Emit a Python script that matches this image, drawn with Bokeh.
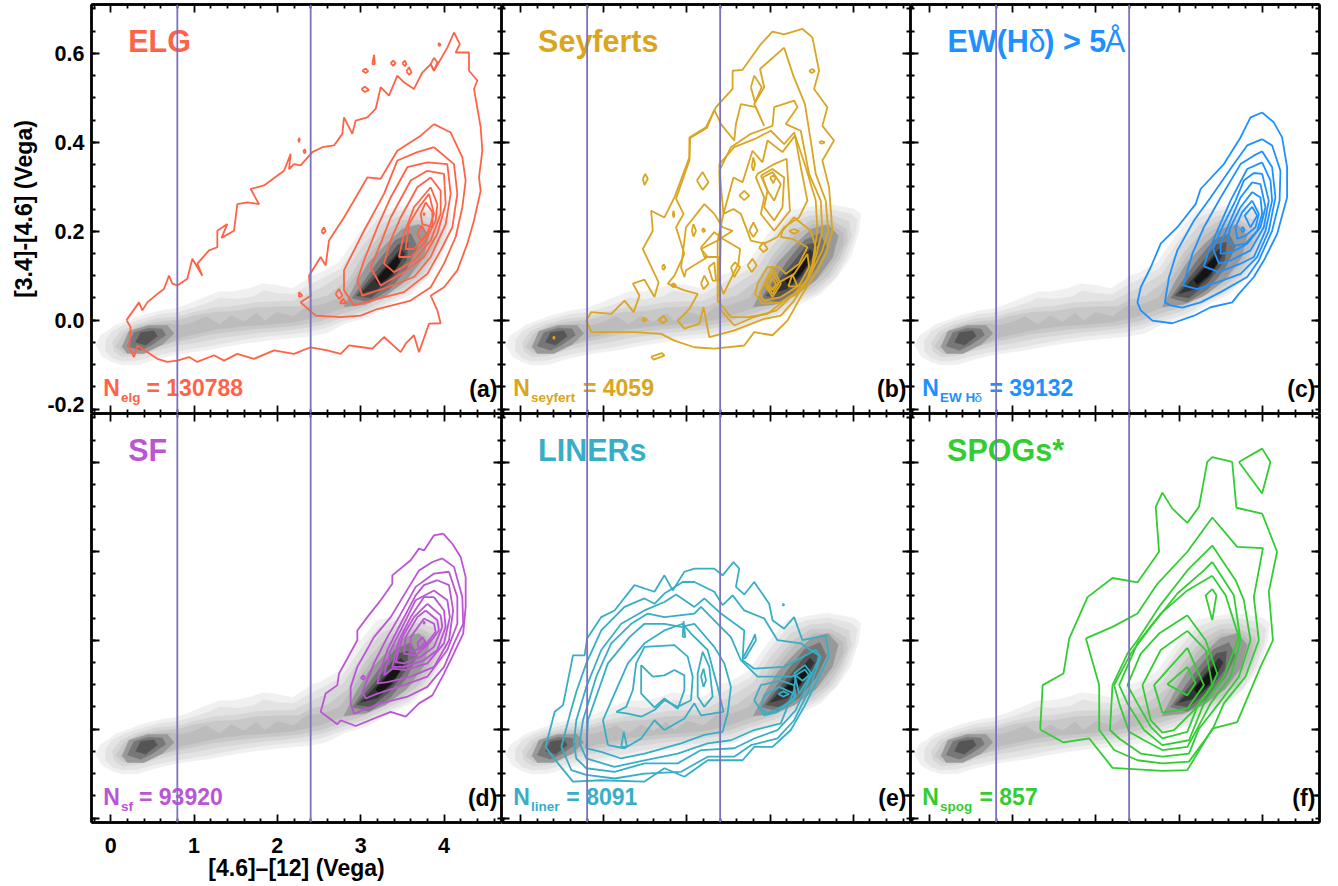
from bokeh.plotting import figure
from bokeh.layouts import gridplot
from bokeh.models import Label, Span, LinearAxis, FixedTicker
from bokeh.embed import file_html
from bokeh.resources import INLINE
import numpy as np

X_MAJOR = [0, 1, 2, 3, 4]
Y_MAJOR = [-0.2, 0, 0.2, 0.4, 0.6]
Y_MAJOR_RIGHT = [-0.15, 0, 0.2, 0.4, 0.6]
Y_LABELLED = [0, 0.2, 0.4, 0.6]
Y_LOW_LABEL = "-0.2"
V_LINES = [0.8, 2.4]
X_TITLE = "[4.6]\u2013[12] (Vega)"
Y_TITLE = "[3.4]-[4.6] (Vega)"

GRAY_COLORS = ["#f0f0f0", "#e3e3e3", "#d6d6d6", "#c8c8c8", "#bcbcbc", "#999999", "#777777", "#555555", "#333333", "#141414"]
GRAY_SHAPES = [
 [[(-.18,-.056),(-.12,-.034),(-.04,-.025),(.06,-.011),(.22,0),(.38,.011),(.62,.022),(.78,.026),(.94,.037),(1.1,.049),(1.3,.064),(1.46,.064),(1.66,.071),(1.82,.082),(1.98,.079),(2.18,.071),(2.34,.09),(2.42,.101),(2.5,.105),(2.74,.13),(2.98,.195),(3.2,.245),(3.45,.254),(3.69,.261),(4.01,.25),(4.09,.239),(4.07,.2),(3.97,.142),(3.81,.097),(3.61,.059),(3.37,.037),(3.09,.007),(2.81,-.008),(2.58,-.03),(2.38,-.037),(2.14,-.041),(1.9,-.045),(1.66,-.051),(1.42,-.058),(1.18,-.067),(.94,-.073),(.74,-.079),(.54,-.088),(.34,-.1),(.14,-.101),(.02,-.094),(-.1,-.082)]],
 [[(-.06,-.045),(.02,-.025),(.2,-.008),(.4,.003),(.6,.013),(.8,.017),(1,.028),(1.2,.04),(1.3,.05),(1.5,.047),(1.7,.052),(1.84,.066),(2,.06),(2.2,.058),(2.35,.075),(2.5,.09),(2.76,.115),(3,.18),(3.22,.23),(3.45,.245),(3.7,.25),(3.98,.238),(4.05,.225),(4.02,.19),(3.92,.14),(3.78,.095),(3.58,.063),(3.35,.043),(3.08,.014),(2.8,-.002),(2.56,-.018),(2.36,-.027),(2.12,-.032),(1.88,-.036),(1.64,-.042),(1.4,-.05),(1.16,-.059),(.92,-.066),(.72,-.072),(.52,-.08),(.32,-.09),(.14,-.092),(.02,-.085),(-.06,-.07)]],
 [[(.02,-.05),(.12,-.025),(.3,-.01),(.55,.003),(.8,.007),(1,.018),(1.25,.028),(1.5,.032),(1.75,.04),(2,.042),(2.2,.043),(2.38,.06),(2.55,.075),(2.8,.105),(3.02,.165),(3.25,.215),(3.48,.235),(3.72,.238),(3.95,.222),(3.98,.19),(3.88,.14),(3.74,.098),(3.55,.068),(3.33,.05),(3.06,.022),(2.78,.006),(2.55,-.01),(2.3,-.018),(2.05,-.024),(1.8,-.028),(1.55,-.034),(1.3,-.04),(1.05,-.05),(.8,-.057),(.55,-.068),(.32,-.08),(.14,-.083),(.04,-.07)]],
 [[(.06,-.06),(.16,-.03),(.35,-.012),(.6,-.003),(.8,0),(1,.01),(1.25,.018),(1.5,.02),(1.75,.028),(2,.03),(2.25,.03),(2.4,.045),(2.6,.055),(2.85,.09),(3.05,.15),(3.28,.2),(3.5,.225),(3.73,.225),(3.92,.205),(3.93,.18),(3.84,.14),(3.7,.1),(3.5,.072),(3.3,.055),(3.04,.03),(2.76,.014),(2.52,-.002),(2.25,-.012),(2,-.016),(1.7,-.02),(1.45,-.026),(1.2,-.032),(.95,-.042),(.75,-.05),(.55,-.06),(.34,-.072),(.16,-.075)]],
 [[(.12,-.062),(.22,-.028),(.45,-.012),(.7,-.008),(.85,-.012),(1,-.004),(1.15,.008),(1.3,-.01),(1.45,.01),(1.6,-.004),(1.75,.016),(1.85,-.002),(2,.018),(2.2,.008),(2.35,.03),(2.55,.035),(2.75,.05),(2.9,.09),(3.08,.14),(3.3,.19),(3.52,.215),(3.74,.215),(3.88,.195),(3.88,.17),(3.78,.135),(3.62,.1),(3.45,.075),(3.25,.058),(3.02,.037),(2.75,.025),(2.5,.008),(2.2,-.004),(1.9,-.01),(1.6,-.013),(1.3,-.02),(1.05,-.03),(.85,-.038),(.7,-.05),(.5,-.062),(.3,-.07)]],
 [[(2.8,.03),(2.95,.085),(3.1,.13),(3.3,.17),(3.5,.205),(3.7,.215),(3.82,.19),(3.75,.14),(3.55,.09),(3.3,.055),(3.05,.035)],[(.14,-.06),(.22,-.025),(.45,-.012),(.68,-.012),(.76,-.03),(.62,-.055),(.4,-.075),(.2,-.075)]],
 [[(2.9,.05),(3.05,.09),(3.22,.135),(3.42,.18),(3.6,.195),(3.68,.165),(3.55,.115),(3.35,.07),(3.1,.04)],[(.2,-.058),(.28,-.028),(.45,-.018),(.62,-.02),(.66,-.034),(.5,-.055),(.36,-.068)]],
 [[(2.95,.055),(3.1,.09),(3.28,.13),(3.45,.17),(3.57,.175),(3.55,.135),(3.35,.085),(3.12,.05)],[(.3,-.05),(.36,-.028),(.52,-.024),(.56,-.036),(.42,-.056)]],
 [[(3,.06),(3.15,.09),(3.32,.125),(3.48,.16),(3.53,.15),(3.38,.1),(3.2,.07)]],
 [[(3.18,.09),(3.3,.115),(3.44,.145),(3.47,.13),(3.35,.1),(3.22,.08)]],
]

ELG_CONTOURS = [
 [(.19,0),(.34,.04),(.38,.022),(.44,.04),(.56,.059),(.64,.07),(.7,.1),(.74,.082),(.8,.078),(.92,.093),(.98,.138),(1.1,.1),(1.04,.127),(1.18,.157),(1.28,.164),(1.28,.201),(1.4,.216),(1.33,.185),(1.48,.201),(1.52,.261),(1.64,.265),(1.78,.261),(1.68,.295),(1.84,.303),(2.08,.336),(2.16,.374),(2.14,.34),(2.2,.351),(2.28,.348),(2.42,.378),(2.54,.389),(2.68,.393),(2.78,.419),(2.8,.456),(2.9,.419),(2.94,.449),(3.08,.456),(3.18,.475),(3.24,.524),(3.34,.505),(3.44,.55),(3.52,.535),(3.64,.52),(3.74,.557),(3.84,.576),(3.88,.561),(4.04,.613),(4.12,.647),(4.19,.621),(4.14,.602),(4.3,.602),(4.3,.561),(4.4,.539),(4.36,.52),(4.44,.434),(4.46,.381),(4.42,.321),(4.44,.291),(4.36,.224),(4.28,.172),(4.16,.112),(4,.074),(3.84,.055),(3.92,.022),(3.96,-.007),(3.82,-.008),(3.7,-.072),(3.64,-.034),(3.54,-.053),(3.48,-.072),(3.28,-.038),(3.14,-.064),(3.02,-.061),(2.86,-.057),(2.76,-.076),(2.6,-.068),(2.4,-.061),(2.2,-.076),(1.96,-.068),(1.72,-.087),(1.52,-.076),(1.36,-.091),(1.24,-.079),(1.04,-.094),(.94,-.083),(.8,-.091),(.68,-.094),(.56,-.087),(.32,-.057),(.28,-.083),(.22,-.061),(.24,-.016)],
 [(3.88,.441),(4.08,.422),(4.22,.366),(4.26,.314),(4.22,.254),(4.14,.187),(4,.127),(3.84,.074),(3.6,.044),(3.2,.025),(3,.01),(2.76,.007),(2.46,.01),(2.28,.04),(2.4,.055),(2.38,.1),(2.52,.142),(2.58,.123),(2.62,.179),(2.8,.231),(2.92,.269),(3.08,.321),(3.24,.318),(3.44,.381),(3.72,.415)],
 [(3.88,.389),(4.12,.351),(4.16,.284),(4.1,.209),(3.96,.157),(3.8,.104),(3.52,.063),(3.2,.048),(2.92,.033),(2.8,.067),(2.8,.112),(2.92,.157),(3.04,.201),(3.28,.284),(3.44,.359),(3.68,.378)],
 [(3.8,.355),(4.04,.351),(4.08,.284),(4.02,.216),(3.84,.142),(3.64,.097),(3.32,.074),(3.02,.055),(2.96,.089),(3.04,.134),(3.2,.209),(3.36,.276),(3.56,.344)],
 [(3.8,.336),(4,.329),(4.02,.261),(3.92,.194),(3.76,.142),(3.52,.108),(3.24,.078),(3.12,.119),(3.24,.172),(3.36,.231),(3.6,.314)],
 [(3.84,.321),(3.96,.291),(3.96,.239),(3.84,.179),(3.64,.134),(3.4,.108),(3.28,.127),(3.36,.179),(3.48,.231),(3.68,.299)],
 [(3.84,.299),(3.92,.261),(3.9,.224),(3.76,.172),(3.6,.142),(3.46,.142),(3.52,.194),(3.64,.254)],
 [(3.82,.284),(3.88,.239),(3.8,.194),(3.64,.16),(3.54,.16),(3.58,.216),(3.7,.254)],
 [(3.78,.265),(3.86,.243),(3.86,.209),(3.74,.216),(3.72,.239)],
 [(3.73,.213),(3.79,.194),(3.73,.178),(3.68,.194)],
 [(3.16,.597),(3.17,.576),(3.14,.576)],
 [(3.02,.561),(3.06,.566),(3.09,.56),(3.06,.556)],
 [(3.01,.52),(3.05,.525),(3.1,.518),(3.05,.513)],
 [(3.36,.578),(3.39,.584),(3.42,.578),(3.39,.572)],
 [(3.5,.578),(3.53,.584),(3.55,.576),(3.53,.571)],
 [(3.55,.56),(3.58,.569),(3.61,.557),(3.58,.552)],
 [(3.84,.576),(3.88,.59),(3.92,.58),(3.88,.561)],
 [(3.93,.621),(3.94,.623),(3.96,.619),(3.94,.617)],
 [(2.25,.408),(2.26,.4),(2.27,.408)],
 [(2.31,.38),(2.33,.384),(2.34,.379),(2.33,.375)],
 [(2.53,.2),(2.56,.209),(2.58,.2),(2.55,.194)],
 [(2.26,.063),(2.3,.055),(2.26,.052)],
 [(2.7,.059),(2.74,.07),(2.78,.055),(2.74,.048)],
 [(2.75,.038),(2.79,.048),(2.83,.038)],
 [(3.75,.239),(3.76,.241),(3.77,.238),(3.76,.236)],
]

SEYFERT_CONTOURS = [
 [(.79,-.001),(.85,.018),(1.09,.014),(1.25,.044),(1.36,.018),(1.43,.055),(1.35,.082),(1.49,.091),(1.61,.052),(1.66,.085),(1.47,.16),(1.59,.201),(1.57,.246),(1.73,.231),(1.85,.276),(2.03,.366),(2.03,.411),(2.23,.434),(2.35,.479),(2.55,.52),(2.55,.561),(2.67,.563),(2.89,.621),(3.03,.649),(3.17,.643),(3.39,.655),(3.51,.636),(3.59,.561),(3.53,.52),(3.69,.479),(3.63,.437),(3.77,.404),(3.63,.359),(3.71,.299),(3.75,.201),(3.67,.149),(3.57,.112),(3.39,.059),(3.21,-.001),(3.03,-.034),(2.81,-.027),(2.69,-.057),(2.33,-.064),(2.09,-.061),(1.85,-.046),(1.69,-.031),(1.37,-.027),(.85,-.027)],
 [(3.17,.613),(3.28,.55),(3.42,.486),(3.49,.404),(3.55,.329),(3.67,.269),(3.7,.201),(3.63,.157),(3.47,.097),(3.29,.044),(3.13,.01),(2.93,.003),(2.57,-.023),(2.27,-.038),(2.2,.029),(2.15,-.008),(1.97,-.019),(1.89,-.001),(2.03,.025),(2.13,.059),(1.97,.067),(1.77,.082),(1.85,.1),(1.97,.149),(1.87,.209),(1.96,.239),(1.87,.273),(2.03,.359),(2.04,.41),(2.24,.432),(2.33,.473),(2.41,.441),(2.57,.404),(2.59,.441),(2.65,.486),(2.83,.479),(2.93,.437),(2.81,.486),(2.93,.524),(2.88,.565)],
 [(3.03,.437),(3.05,.479),(3.29,.494),(3.33,.479),(3.19,.441),(3.37,.426),(3.47,.329),(3.61,.269),(3.63,.201),(3.55,.142),(3.47,.097),(3.29,.059),(3.08,.022),(2.81,.007),(2.57,-.012),(2.41,.022),(2.39,.059),(2.41,.194),(2.39,.336),(2.53,.389),(2.77,.419),(2.93,.43)],
 [(2.39,.351),(2.57,.389),(2.81,.407),(3.01,.426),(3.17,.396),(3.29,.422),(3.43,.344),(3.55,.269),(3.57,.201),(3.51,.127),(3.41,.074),(3.17,.044),(2.97,.014),(2.73,.007),(2.53,.007),(2.37,.044),(2.37,.179),(2.44,.239),(2.41,.299)],
 [(2.44,.239),(2.56,.321),(2.67,.31),(2.79,.381),(2.91,.355),(2.97,.404),(3.15,.378),(3.3,.415),(3.37,.344),(3.45,.269),(3.35,.231),(3.17,.209),(3.09,.187),(2.93,.172),(2.77,.179),(2.65,.239),(2.56,.25)],
 [(2.85,.329),(3.05,.351),(3.2,.363),(3.24,.246),(3.05,.201),(2.89,.239),(2.93,.276),(2.83,.321)],
 [(2.89,.325),(3.03,.34),(3.17,.321),(3.15,.254),(3.05,.224),(2.93,.254),(2.97,.291)],
 [(2.91,.321),(3.03,.333),(3.13,.306),(3.05,.269),(2.97,.291)],
 [(3,.321),(3.04,.325),(3.07,.321),(3.04,.308)],
 [(3.15,.201),(3.13,.187),(3.27,.183),(3.45,.164),(3.35,.127),(3.19,.104),(3.11,.119),(2.97,.119),(2.85,.082),(2.82,.059),(2.91,.037),(3.13,.04),(3.37,.067),(3.51,.112),(3.55,.164),(3.49,.201),(3.29,.231)],
 [(2.87,.059),(2.93,.044),(3.13,.052),(3.35,.078),(3.47,.119),(3.45,.149),(3.29,.104),(3.11,.085),(3,.067),(2.93,.082)],
 [(2.93,.082),(3.03,.119),(3.13,.082),(3.03,.052)],
 [(2.96,.082),(3.03,.108),(3.1,.082),(3.03,.059)],
 [(2.99,.08),(3.03,.097),(3.07,.08),(3.03,.067)],
 [(3.22,.076),(3.27,.103),(3.33,.076)],
 [(2.17,.164),(2.33,.198),(2.43,.183),(2.64,.16),(2.62,.127),(2.44,.059),(2.37,.097),(2.39,.142),(2.21,.142)],
 [(1.93,.119),(1.99,.209),(2.21,.261),(2.33,.239),(2.43,.209),(2.55,.201),(2.37,.179),(2.17,.16),(2.25,.142),(1.99,.112),(1.97,.097)],
 [(2.77,.524),(2.81,.55),(2.9,.524),(2.82,.49)],
 [(1.47,.318),(1.5,.329),(1.53,.318),(1.49,.304)],
 [(2.12,.314),(2.19,.333),(2.26,.31),(2.19,.293)],
 [(1.83,.239),(1.84,.246),(1.85,.235),(1.84,.231)],
 [(2.06,.201),(2.08,.216),(2.11,.201),(2.08,.188)],
 [(2.18,.203),(2.2,.207),(2.22,.201),(2.2,.198)],
 [(2.63,.28),(2.69,.291),(2.75,.28),(2.69,.27)],
 [(2.78,.346),(2.8,.366),(2.82,.351),(2.8,.336)],
 [(2.75,.201),(2.8,.22),(2.85,.201),(2.8,.187)],
 [(2.87,.163),(2.92,.175),(2.97,.16),(2.92,.153)],
 [(3.23,.2),(3.29,.205),(3.35,.2),(3.29,.194)],
 [(2.53,.119),(2.58,.13),(2.64,.119),(2.57,.097)],
 [(2.73,.123),(2.79,.138),(2.84,.123),(2.78,.108)],
 [(2.17,.082),(2.21,.1),(2.26,.082),(2.2,.07)],
 [(2.26,.119),(2.33,.13),(2.35,.089),(2.31,.089)],
 [(1.81,.078),(1.84,.083),(1.87,.078),(1.84,.074)],
 [(1.7,.119),(1.72,.125),(1.74,.119),(1.72,.113)],
 [(1.66,.001),(1.72,.01),(1.76,-.001),(1.71,-.007)],
 [(1.46,.001),(1.49,.005),(1.52,.001),(1.49,-.004)],
 [(3.47,.561),(3.51,.565),(3.54,.56),(3.5,.556)],
 [(3.59,.4),(3.62,.403),(3.66,.4),(3.62,.397)],
 [(1.57,-.082),(1.7,-.074),(1.73,-.08),(1.6,-.089)],
 [(.39,-.04),(.4,-.037),(.41,-.04),(.4,-.042)],
]

EW_CONTOURS = [
 [(4,.467),(4.14,.445),(4.24,.411),(4.3,.344),(4.3,.276),(4.18,.194),(4.02,.134),(3.9,.097),(3.72,.059),(3.64,.04),(3.38,.029),(3.18,.01),(2.92,-.007),(2.68,-.001),(2.54,.022),(2.5,.04),(2.54,.074),(2.66,.119),(2.78,.172),(2.98,.209),(3.2,.261),(3.26,.295),(3.54,.351),(3.74,.411),(3.86,.456)],
 [(4,.407),(4.12,.393),(4.22,.336),(4.21,.269),(4.12,.201),(3.96,.134),(3.82,.097),(3.5,.063),(3.26,.04),(3.04,.028),(2.9,.033),(2.83,.04),(2.88,.097),(2.98,.157),(3.18,.224),(3.38,.276),(3.66,.351),(3.82,.393)],
 [(4,.38),(4.12,.344),(4.16,.276),(4.08,.201),(3.94,.142),(3.74,.104),(3.46,.085),(3.22,.07),(3.05,.078),(3.16,.149),(3.3,.209),(3.48,.269),(3.74,.351),(3.9,.37)],
 [(4,.355),(4.1,.314),(4.12,.269),(4.04,.201),(3.9,.142),(3.74,.127),(3.48,.108),(3.3,.121),(3.36,.157),(3.48,.209),(3.62,.269),(3.82,.34)],
 [(3.9,.331),(4,.329),(4.08,.269),(4.02,.209),(3.86,.157),(3.62,.134),(3.48,.127),(3.41,.16),(3.52,.209),(3.68,.269),(3.78,.314)],
 [(3.88,.31),(3.98,.306),(4.04,.254),(3.98,.209),(3.82,.172),(3.64,.153),(3.5,.149),(3.5,.172),(3.6,.216),(3.74,.276)],
 [(3.88,.288),(3.98,.276),(4,.239),(3.94,.201),(3.8,.172),(3.68,.168),(3.58,.179),(3.62,.209),(3.74,.254)],
 [(3.88,.269),(3.96,.239),(3.92,.209),(3.8,.19),(3.7,.183),(3.68,.209),(3.76,.243)],
 [(3.88,.255),(3.94,.235),(3.86,.209),(3.79,.235)],
 [(3.75,.206),(3.77,.209),(3.79,.202),(3.76,.198)],
]

SF_CONTOURS = [
 [(3.99,.44),(4.1,.417),(4.2,.387),(4.26,.342),(4.26,.275),(4.23,.215),(4.1,.163),(4,.125),(3.86,.076),(3.7,.058),(3.54,.028),(3.36,.039),(3.16,.024),(2.94,.007),(2.76,.02),(2.72,.011),(2.52,.039),(2.58,.08),(2.72,.099),(2.74,.125),(2.96,.2),(2.96,.222),(3.08,.252),(3.24,.29),(3.38,.327),(3.38,.346),(3.6,.38),(3.7,.406),(3.76,.402),(3.88,.436)],
 [(3.98,.384),(4.12,.365),(4.22,.297),(4.23,.237),(4.12,.193),(4,.14),(3.8,.095),(3.56,.073),(3.24,.058),(2.92,.035),(2.88,.058),(2.88,.095),(2.96,.14),(3.16,.207),(3.36,.252),(3.58,.32),(3.7,.357),(3.86,.376)],
 [(4.06,.354),(4.16,.297),(4.16,.237),(4.04,.178),(3.8,.118),(3.52,.099),(3.2,.08),(3.06,.069),(3.02,.084),(3.16,.148),(3.32,.207),(3.46,.252),(3.66,.32),(3.88,.35)],
 [(3.92,.335),(4.06,.324),(4.11,.267),(4.06,.2),(3.88,.14),(3.6,.118),(3.32,.106),(3.2,.103),(3.24,.133),(3.32,.178),(3.48,.237),(3.66,.301),(3.76,.324)],
 [(3.88,.312),(4.04,.29),(4.07,.252),(4,.193),(3.8,.148),(3.54,.133),(3.38,.136),(3.28,.121),(3.36,.178),(3.48,.222),(3.66,.29)],
 [(3.88,.297),(4,.267),(4.02,.23),(3.92,.178),(3.76,.155),(3.52,.14),(3.38,.14),(3.46,.2),(3.6,.252),(3.76,.297)],
 [(3.8,.282),(3.96,.256),(3.98,.23),(3.88,.185),(3.72,.163),(3.52,.148),(3.42,.151),(3.5,.207),(3.64,.252)],
 [(3.78,.267),(3.92,.245),(3.94,.222),(3.82,.193),(3.66,.166),(3.52,.17),(3.54,.207),(3.68,.252)],
 [(3.76,.249),(3.88,.237),(3.9,.219),(3.76,.185),(3.6,.174),(3.6,.207)],
 [(3.68,.193),(3.74,.207),(3.78,.196),(3.7,.181)],
 [(3,.115),(3.03,.121),(3.05,.117),(3.03,.112)],
 [(3.75,.24),(3.76,.242),(3.77,.239),(3.76,.237)],
]

LINER_CONTOURS = [
 [(.3,-.04),(.41,.039),(.51,.054),(.63,.166),(.77,.166),(.8,.204),(.97,.252),(1.13,.267),(1.37,.324),(1.61,.309),(1.73,.346),(1.83,.312),(1.97,.354),(2.09,.361),(2.33,.361),(2.43,.346),(2.56,.376),(2.63,.361),(2.59,.32),(2.69,.303),(2.81,.331),(2.99,.282),(3.03,.245),(3.17,.226),(3.29,.252),(3.39,.2),(3.67,.211),(3.71,.163),(3.57,.11),(3.41,.05),(3.25,-.002),(3.03,-.04),(2.81,-.04),(2.67,-.07),(2.25,-.07),(1.97,-.107),(1.73,-.088),(1.49,-.118),(.97,-.115),(.63,-.118),(.45,-.077)],
 [(.49,-.04),(.59,.031),(.67,.084),(.79,.148),(.97,.222),(1.25,.275),(1.49,.294),(1.61,.282),(1.73,.305),(1.95,.331),(2.09,.331),(2.33,.309),(2.43,.279),(2.55,.301),(2.69,.267),(2.93,.249),(3.09,.2),(3.37,.193),(3.61,.163),(3.47,.088),(3.29,.02),(3.09,-.021),(2.77,-.036),(2.57,-.062),(2.25,-.062),(1.93,-.096),(1.49,-.1),(1.13,-.111),(.79,-.103),(.61,-.092)],
 [(.64,-.032),(.67,.02),(.79,.095),(.97,.178),(1.21,.237),(1.49,.267),(1.73,.286),(1.87,.303),(2.09,.275),(2.21,.294),(2.41,.26),(2.69,.222),(2.67,.155),(2.81,.136),(3.17,.14),(3.55,.178),(3.6,.163),(3.47,.11),(3.31,.043),(3.09,-.002),(2.81,-.021),(2.57,-.043),(2.17,-.047),(1.89,-.077),(1.49,-.077),(1.13,-.096),(.79,-.088),(.67,-.066)],
 [(.71,-.032),(.75,.02),(.91,.118),(1.09,.193),(1.33,.237),(1.53,.26),(1.73,.252),(2.09,.26),(2.17,.275),(2.37,.237),(2.53,.207),(2.65,.155),(2.85,.118),(3.25,.118),(3.31,.121),(3.29,.088),(3.13,.013),(2.81,-.002),(2.53,-.025),(2.25,-.032),(1.89,-.055),(1.49,-.07),(1.13,-.085),(.79,-.066)],
 [(.79,-.043),(.81,.02),(1.05,.148),(1.31,.207),(1.49,.237),(1.73,.237),(1.93,.23),(2.09,.237),(2.33,.185),(2.45,.148),(2.53,.095),(2.49,.035),(2.43,-.006),(2.21,-.013),(1.93,-.032),(1.49,-.055),(1.21,-.066),(.97,-.051)],
 [(1.05,-.036),(.99,.02),(1.13,.08),(1.29,.148),(1.49,.193),(1.73,.222),(1.95,.237),(2.05,.215),(2.25,.178),(2.37,.095),(2.44,.039),(2.17,.031),(2.09,.058),(1.97,.024),(1.73,-.002),(1.61,.02),(1.45,-.021),(1.25,-.043)],
 [(1.15,.039),(1.27,.05),(1.35,.088),(1.39,.148),(1.49,.185),(1.85,.189),(2.01,.163),(2.07,.118),(2.05,.065),(1.89,.05),(1.73,.065),(1.61,.043),(1.45,.028),(1.29,.035)],
 [(1.45,.144),(1.59,.118),(1.73,.121),(1.85,.133),(1.97,.121),(1.97,.088),(1.89,.046),(1.73,.069),(1.61,.049),(1.45,.08)],
 [(2.13,.073),(2.13,.125),(2.19,.174),(2.27,.14),(2.31,.073),(2.21,.05)],
 [(2.17,.118),(2.2,.136),(2.23,.11),(2.2,.095)],
 [(1.95,.207),(1.96,.243),(1.98,.207)],
 [(1.21,-.04),(1.24,-.006),(1.28,-.04)],
 [(2.67,.159),(2.79,.2),(2.82,.213),(2.83,.2),(2.7,.159)],
 [(2.89,.046),(2.93,.076),(3.11,.095),(3.29,.08),(3.29,.065),(3.09,.046),(2.97,.035)],
 [(3.1,.079),(3.16,.085),(3.23,.079),(3.16,.073)],
 [(3.31,.121),(3.42,.134),(3.47,.121),(3.39,.109)],
 [(2.81,.065),(2.89,.099),(3.13,.109),(3.29,.099),(3.31,.073),(3.09,.039),(2.93,.031)],
 [(3.29,.125),(3.42,.144),(3.5,.125),(3.35,.08)],
 [(3.15,.28),(3.16,.282),(3.17,.28),(3.16,.278)],
]

SPOG_CONTOURS = [
 [(1.33,-.001),(1.36,.099),(1.61,.125),(1.68,.204),(1.9,.297),(2.2,.34),(2.5,.33),(2.76,.399),(2.72,.5),(2.8,.532),(2.92,.496),(3.1,.464),(3.24,.5),(3.34,.601),(3.4,.612),(3.64,.601),(3.69,.498),(4,.485),(4.18,.399),(4.08,.309),(4.13,.2),(3.98,.14),(3.7,.016),(3.4,.001),(3.1,-.092),(2.8,-.094),(2.2,-.087),(1.92,-.021),(1.61,-.03)],
 [(3.72,.601),(4,.631),(4.1,.601),(4,.53)],
 [(1.88,.204),(2.2,.23),(2.5,.26),(2.74,.327),(3.1,.399),(3.4,.476),(3.7,.41),(4.01,.407),(3.9,.297),(3.96,.2),(3.8,.118),(3.54,.058),(3.4,-.002),(3.12,-.073),(2.8,-.077),(2.5,-.07),(2.22,-.047),(2.04,-.002),(2.04,.099)],
 [(3.4,.413),(3.68,.335),(3.78,.29),(3.86,.2),(3.72,.118),(3.48,.058),(3.24,.001),(3.12,-.055),(2.8,-.062),(2.54,-.055),(2.28,-.021),(2.17,-.002),(2.2,.099),(2.38,.17),(2.5,.2),(2.76,.275),(3.1,.357)],
 [(3.4,.376),(3.66,.301),(3.74,.2),(3.62,.118),(3.38,.058),(3.22,.001),(3.1,-.04),(2.8,-.047),(2.58,-.025),(2.4,-.006),(2.28,.058),(2.22,.099),(2.42,.17),(2.66,.23),(2.98,.305),(3.3,.357)],
 [(3.4,.345),(3.56,.301),(3.72,.207),(3.54,.118),(3.3,.058),(3.12,-.025),(2.8,-.036),(2.58,-.002),(2.38,.058),(2.28,.099),(2.5,.193),(2.78,.26),(3.1,.312)],
 [(3.1,.256),(3.32,.2),(3.46,.125),(3.4,.099),(3.22,.05),(3.1,-.006),(2.8,-.021),(2.66,.005),(2.5,.058),(2.38,.099),(2.54,.17),(2.76,.215)],
 [(3.1,.221),(3.32,.178),(3.4,.099),(3.18,.043),(2.94,-.002),(2.8,-.008),(2.66,.02),(2.56,.099),(2.78,.178)],
 [(3.1,.183),(3.3,.099),(3.1,.046),(2.8,.037),(2.7,.099)],
 [(3.1,.14),(3.2,.103),(3.1,.076),(2.86,.101)],
 [(3.4,.315),(3.45,.301),(3.4,.245),(3.32,.301)],
]

X_RANGE = (-0.23, 4.69)
Y_RANGE = (-0.21, 0.71)
FONT = "Liberation Sans"
X_MINOR = [round(v, 1) for v in np.arange(-0.2, 4.7, 0.2) if round(v, 1) not in X_MAJOR]
Y_MINOR = [round(v, 2) for v in np.arange(-0.2, 0.71, 0.05)]
# The "-0.2" text sits a little above its tick in the reference, so that it stays inside the panel's height
Y_LOW_LABEL_AT = -0.19


def txt(p, x, y, s, color, size, style="bold", align="left"):
    p.add_layout(Label(x=x, y=y, text=s, text_color=color, text_font=FONT, text_font_size=f"{size}px",
                       text_font_style=style, text_align=align, text_baseline="alphabetic"))


def tick_axis(p, side, ticks, length):
    # a label-free axis: its ticks are given as minor ticks, which carry no text
    ax = LinearAxis(ticker=FixedTicker(ticks=[], minor_ticks=list(ticks)))
    ax.axis_line_color = "black"
    ax.axis_line_width = 2.4
    ax.minor_tick_line_color = "black"
    ax.minor_tick_line_width = 1.8
    ax.minor_tick_in = length
    ax.minor_tick_out = 0
    ax.major_label_standoff = 0
    p.add_layout(ax, side)


def labelled_axis(p, side, ticks, overrides, title, standoff, title_standoff):
    ax = LinearAxis(ticker=FixedTicker(ticks=list(ticks), minor_ticks=[]), axis_label=title)
    ax.axis_line_color = None
    ax.major_tick_line_color = None
    ax.major_tick_in = 0
    ax.major_tick_out = 0
    ax.major_label_overrides = overrides
    ax.major_label_standoff = standoff
    ax.major_label_text_font = FONT
    ax.major_label_text_font_style = "bold"
    ax.major_label_text_font_size = "21.5px"
    ax.major_label_text_color = "black"
    ax.axis_label_text_font = FONT
    ax.axis_label_text_font_style = "bold"
    ax.axis_label_text_font_size = "23px"
    ax.axis_label_text_color = "black"
    ax.axis_label_standoff = title_standoff
    p.add_layout(ax, side)


def panel(contours, color, col, row):
    left = 91 if col == 0 else 0
    right = 11 if col == 2 else 0
    top = 4 if row == 0 else 0
    bottom = 62 if row == 1 else 0
    fw = [410, 409, 409][col]
    fh = 409
    p = figure(width=fw + left + right, height=fh + top + bottom, output_backend="svg", toolbar_location=None,
               x_range=X_RANGE, y_range=Y_RANGE, min_border_left=left, min_border_right=right,
               min_border_top=top, min_border_bottom=bottom, x_axis_type=None, y_axis_type=None,
               background_fill_color="white", border_fill_color="white", outline_line_color=None)
    p.xgrid.visible = False
    p.ygrid.visible = False

    # the tick-only axes go first, so that they lie on the frame; a labelled axis is stacked outside them
    tick_axis(p, "below", X_MAJOR, 8)
    tick_axis(p, "below", X_MINOR, 4)
    tick_axis(p, "above", X_MAJOR, 8)
    tick_axis(p, "above", X_MINOR, 4)
    tick_axis(p, "left", Y_MAJOR, 8)
    tick_axis(p, "left", Y_MINOR, 4)
    tick_axis(p, "right", Y_MAJOR_RIGHT, 8)
    tick_axis(p, "right", Y_MINOR, 4)
    if row == 1 and col == 0:
        labelled_axis(p, "below", X_MAJOR, {v: str(v) for v in X_MAJOR}, X_TITLE, 15, -1)
    if row == 0 and col == 0:
        over = {v: f"{v:.1f}" for v in Y_LABELLED}
        over[Y_LOW_LABEL_AT] = Y_LOW_LABEL
        labelled_axis(p, "left", [Y_LOW_LABEL_AT] + Y_LABELLED, over, Y_TITLE, 7, 7)

    for c, polys in zip(GRAY_COLORS, GRAY_SHAPES):
        p.patches([[q[0] for q in poly] for poly in polys], [[q[1] for q in poly] for poly in polys],
                  fill_color=c, line_color=c, line_width=0.5)
    for poly in contours:
        closed = list(poly) + [poly[0]]
        p.line([q[0] for q in closed], [q[1] for q in closed], line_color=color, line_width=1.8)
    return p


def n_label(p, sub, num, color, num_x):
    txt(p, -0.09, -0.153, "N", color, 23)
    txt(p, 0.125, -0.173, sub, color, 13.5)
    txt(p, num_x, -0.153, "= " + num, color, 23)


def finish(p, tag):
    txt(p, 4.64, -0.154, tag, "black", 23, align="right")
    for v in V_LINES:
        p.add_layout(Span(location=v, dimension="height", line_color="#7B72BC", line_width=1.8))


TOMATO, GOLD, BLUE, ORCHID, TEAL, LIME = "#FF6347", "#DAA520", "#1E90FF", "#BA55D3", "#38AEC6", "#32CD32"
TITLE = 30.5
TITLE_Y = 0.628

pa = panel(ELG_CONTOURS, TOMATO, 0, 0)
txt(pa, 0.21, TITLE_Y, "ELG", TOMATO, TITLE)
n_label(pa, "elg", "130788", TOMATO, 0.43)
finish(pa, "(a)")

pb = panel(SEYFERT_CONTOURS, GOLD, 1, 0)
txt(pb, 0.21, TITLE_Y, "Seyferts", GOLD, TITLE)
n_label(pb, "seyfert", "4059", GOLD, 0.75)
finish(pb, "(b)")

pc = panel(EW_CONTOURS, BLUE, 2, 0)
txt(pc, 0.216, TITLE_Y, "EW(H", BLUE, TITLE)
txt(pc, 1.19, TITLE_Y, "\u03b4", BLUE, TITLE, style="normal")
txt(pc, 1.38, TITLE_Y, ") > 5", BLUE, TITLE)
txt(pc, 2.11, TITLE_Y, "\u00c5", BLUE, TITLE, style="normal")
n_label(pc, "EW H", "39132", BLUE, 0.72)
txt(pc, 0.54, -0.173, "\u03b4", BLUE, 13.5, style="normal")
finish(pc, "(c)")

pd_ = panel(SF_CONTOURS, ORCHID, 0, 1)
txt(pd_, 0.21, TITLE_Y, "SF", ORCHID, TITLE)
n_label(pd_, "sf", "93920", ORCHID, 0.34)
finish(pd_, "(d)")

pe = panel(LINER_CONTOURS, TEAL, 1, 1)
txt(pe, 0.21, TITLE_Y, "LINERs", TEAL, TITLE)
n_label(pe, "liner", "8091", TEAL, 0.55)
finish(pe, "(e)")

pf = panel(SPOG_CONTOURS, LIME, 2, 1)
txt(pf, 0.21, TITLE_Y, "SPOGs*", LIME, TITLE)
n_label(pf, "spog", "857", LIME, 0.6)
finish(pf, "(f)")

grid = gridplot([[pa, pb, pc], [pd_, pe, pf]], toolbar_location=None, merge_tools=False)

open("out.html", "w").write(file_html(grid, INLINE))
